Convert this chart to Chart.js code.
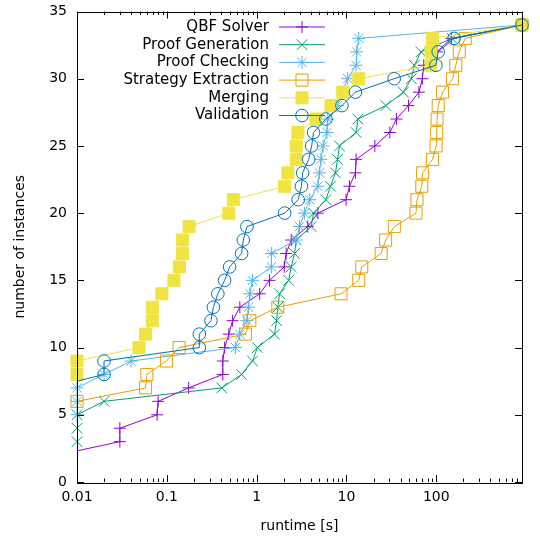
<!DOCTYPE html>
<html>
<head>
<meta charset="utf-8">
<script src="https://cdn.jsdelivr.net/npm/chart.js@4"></script>
<style>
  html, body { margin: 0; padding: 0; background: #fff; }
</style>
</head>
<body>
<canvas id="cactus" width="540" height="540"></canvas>
<script>
// number of solved instances (y axis)
const instances = [1, 2, 3, 4, 5, 6, 7, 8, 9, 10, 11, 12, 13, 14, 15, 16, 17,
  18, 19, 20, 21, 22, 23, 24, 25, 26, 27, 28, 29, 30, 31, 32, 33, 34];

// runtime in seconds needed for the n-th instance (null = not in the plot)
const qbfSolver = [null, 0.006, 0.03, 0.03, 0.078, 0.08, 0.175, 0.42, 0.42, 0.44, 0.49, 0.54,
  0.65, 1.08, 1.39, 2.03, 2.13, 2.43, 3.7, 4.8, 9.9, 10.8, 12.6, 12.8, 20.7, 30.4, 36, 49,
  64, 70, 72.5, 102, 147, 900];
const proofGeneration = [null, null, 0.01, 0.01, 0.01, 0.02, 0.41, 0.68, 0.9, 1.02, 1.58,
  1.67, 1.72, 1.8, 2.27, 2.43, 2.64, 2.76, 4.05, 4.3, 5.9, 6.64, 7.55, 7.94, 8.36, 12.8,
  13.4, 27.5, 43, 52.7, 57, 67.6, 150, 900];
const proofChecking = [null, null, null, null, 0.01, 0.01, 0.01, 0.02, 0.04, 0.58, 0.65,
  0.78, 0.81, 0.84, 0.9, 1.46, 1.46, 2.76, 3.0, 3.4, 3.9, 4.8, 5.0, 5.2, 5.5, 6.07, 6.2,
  7.9, 9.0, 10.3, 12.8, 13.0, 13.7, 900];
const strategyExtraction = [null, null, null, null, null, 0.01, 0.058, 0.06, 0.099, 0.137,
  0.75, 0.84, 1.72, 8.7, 13.7, 14.8, 24.3, 27.3, 34.1, 59.5, 61, 69, 70.5, 91, 99.5, 101,
  102, 105, 117.5, 152, 165, 180, 210, 900];
const merging = [null, null, null, null, null, null, null, 0.01, 0.01, 0.049, 0.058, 0.069,
  0.069, 0.088, 0.12, 0.138, 0.149, 0.149, 0.177, 0.49, 0.55, 2.05, 2.23, 2.76, 2.76, 2.88,
  4.58, 6.73, 9.1, 13.7, 87.3, 87.3, 91, 900];
const validation = [null, null, null, null, null, null, 0.005, 0.02, 0.02, 0.23, 0.23, 0.31,
  0.33, 0.37, 0.44, 0.5, 0.68, 0.71, 0.78, 2.05, 2.9, 3.15, 3.25, 3.8, 4.1, 4.3, 5.9, 8.9,
  12.6, 34, 99, 105, 158, 900];

const seriesNames = ['QBF Solver', 'Proof Generation', 'Proof Checking',
  'Strategy Extraction', 'Merging', 'Validation'];

const xTickValues = [0.01, 0.1, 1, 10, 100];
const xTickLabels = ['0.01', '0.1', '1', '10', '100'];
const yTickValues = [0, 5, 10, 15, 20, 25, 30, 35];

const FONT = { family: 'DejaVu Sans', size: 14 };
const KEY_FONT = '15px "DejaVu Sans"';

// gnuplot-like styles: colour, point type, size, fill
const styles = [
  { color: '#9400d3', point: 'cross', r: 6, fill: 'rgba(0,0,0,0)' },
  { color: '#009e73', point: 'crossRot', r: 7.5, fill: 'rgba(0,0,0,0)' },
  { color: '#56b4e9', point: 'star', r: 6.5, fill: 'rgba(0,0,0,0)' },
  { color: '#e69f00', point: 'rect', r: 8.5, fill: 'rgba(0,0,0,0)' },
  { color: '#f0e442', point: 'rect', r: 8.5, fill: '#f0e442' },
  { color: '#0072b2', point: 'circle', r: 6.3, fill: 'rgba(0,0,0,0)' }
];

const allRuntimes = [qbfSolver, proofGeneration, proofChecking, strategyExtraction, merging, validation];

function toPoints(runtimes) {
  const pts = [];
  runtimes.forEach((t, i) => {
    if (t !== null) pts.push({ x: t, y: instances[i] });
  });
  return pts;
}

// points and line as two datasets: line clipped at the frame, markers not
const datasets = [];
allRuntimes.forEach((rt, i) => {
  const st = styles[i];
  const pts = toPoints(rt);
  datasets.push({
    label: seriesNames[i],
    data: pts,
    showLine: false,
    pointStyle: st.point,
    pointRadius: st.r,
    pointBorderWidth: 1,
    pointBorderColor: st.color,
    pointBackgroundColor: st.fill,
    clip: { left: 10, top: 10, right: 10, bottom: 10 },
    order: 5 - i
  });
  datasets.push({
    label: seriesNames[i] + ' line',
    data: pts,
    showLine: true,
    pointRadius: 0,
    borderColor: st.color,
    borderWidth: 1,
    tension: 0,
    clip: 0,
    order: 5 - i
  });
});

// frame with inward ticks on all four sides
const frameTicks = {
  id: 'frameTicks',
  afterDatasetsDraw(chart) {
    const { ctx, chartArea: a, scales: { x, y } } = chart;
    ctx.save();
    ctx.strokeStyle = '#000';
    ctx.lineWidth = 1;
    ctx.beginPath();
    for (let e = -2; e <= 2; e++) {
      for (let m = 1; m <= 9; m++) {
        const v = m * Math.pow(10, e);
        if (v > x.max) break;
        const px = Math.round(x.getPixelForValue(v)) + 0.5;
        const len = m === 1 ? 7 : 3.5;
        ctx.moveTo(px, a.bottom); ctx.lineTo(px, a.bottom - len);
        ctx.moveTo(px, a.top); ctx.lineTo(px, a.top + len);
      }
    }
    yTickValues.forEach(v => {
      const py = Math.round(y.getPixelForValue(v)) + 0.5;
      ctx.moveTo(a.left, py); ctx.lineTo(a.left + 7, py);
      ctx.moveTo(a.right, py); ctx.lineTo(a.right - 7, py);
    });
    ctx.stroke();
    ctx.strokeRect(Math.round(a.left) + 0.5, Math.round(a.top) + 0.5,
      Math.round(a.right - a.left), Math.round(a.bottom - a.top));
    ctx.restore();
  }
};

// gnuplot style key at top left: text right aligned, then line sample with marker
const keyBox = {
  id: 'keyBox',
  afterDraw(chart) {
    const ctx = chart.ctx;
    ctx.save();
    ctx.font = KEY_FONT;
    ctx.textAlign = 'right';
    ctx.textBaseline = 'middle';
    seriesNames.forEach((name, i) => {
      const st = styles[i];
      const yy = 27 + i * 17.7;
      ctx.fillStyle = '#000';
      ctx.fillText(name, 269, yy);
      ctx.strokeStyle = st.color;
      ctx.lineWidth = 1;
      ctx.beginPath();
      ctx.moveTo(279, yy);
      ctx.lineTo(325, yy);
      ctx.stroke();
      ctx.fillStyle = st.fill;
      Chart.helpers.drawPoint(ctx, { pointStyle: st.point, radius: st.r, rotation: 0, borderWidth: 1 }, 302, yy);
    });
    ctx.restore();
  }
};

new Chart(document.getElementById('cactus'), {
  type: 'scatter',
  data: { datasets: datasets },
  options: {
    responsive: false,
    animation: false,
    events: [],
    layout: { padding: { top: 11.5, right: 18, left: 0, bottom: 0 } },
    plugins: { legend: { display: false }, tooltip: { enabled: false } },
    scales: {
      x: {
        type: 'logarithmic',
        min: 0.01,
        max: 900,
        grid: { display: false, drawTicks: false },
        border: { display: false },
        afterBuildTicks: s => { s.ticks = xTickValues.map(v => ({ value: v })); },
        ticks: {
          autoSkip: false, maxRotation: 0, padding: 7, color: '#000', font: FONT,
          callback: (v, i) => xTickLabels[i]
        },
        title: { display: true, text: 'runtime [s]', color: '#000', font: FONT, padding: { top: 0, bottom: 5 } },
        afterFit: s => { s.height = 58; s.paddingLeft = 0; s.paddingRight = 0; }
      },
      y: {
        min: 0,
        max: 35,
        grid: { display: false, drawTicks: false },
        border: { display: false },
        afterBuildTicks: s => { s.ticks = yTickValues.map(v => ({ value: v })); },
        ticks: { padding: 10, color: '#000', font: FONT, callback: v => String(v) },
        title: { display: true, text: 'number of instances', color: '#000', font: FONT, padding: { top: 12, bottom: 0 } },
        afterFit: s => { s.width = 77; s.paddingTop = 0; s.paddingBottom = 0; }
      }
    }
  },
  plugins: [frameTicks, keyBox]
});
</script>
</body>
</html>
